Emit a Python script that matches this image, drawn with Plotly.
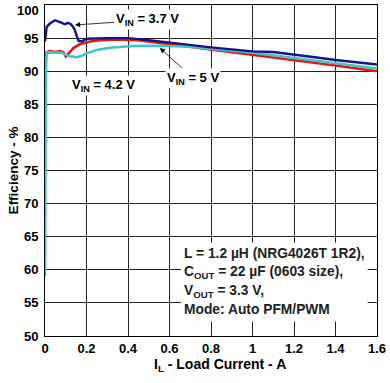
import plotly.graph_objects as go

# Data
x_37 = [0, 0.003, 0.008, 0.024, 0.048, 0.072, 0.096, 0.112, 0.125, 0.14, 0.153, 0.161, 0.177, 0.2,
        0.3, 0.4, 0.5, 0.6, 0.7, 0.8, 0.9, 1.0, 1.1, 1.2, 1.3, 1.4, 1.5, 1.6]
y_37 = [94.5, 95.8, 96.7, 97.2, 97.7, 97.4, 97.1, 97.3, 97.1, 96.5, 95.2, 94.6, 94.5, 94.9,
        95.0, 95.0, 94.7, 94.3, 93.95, 93.6, 93.3, 93.0, 92.9, 92.45, 92.1, 91.7, 91.35, 91.0]

x_42 = [0, 0.003, 0.008, 0.024, 0.048, 0.072, 0.088, 0.1, 0.112, 0.137, 0.169, 0.217, 0.265, 0.345,
        0.45, 0.6, 0.7, 0.8, 1.0, 1.2, 1.4, 1.6]
y_42 = [91.0, 92.5, 92.9, 93.05, 92.9, 93.05, 92.9, 92.2, 92.6, 93.5, 94.1, 94.5, 94.7, 94.8,
        94.7, 94.1, 93.7, 93.35, 92.55, 91.7, 90.85, 90.0]

x_50 = [0, 0.002, 0.004, 0.008, 0.048, 0.08, 0.104, 0.129, 0.153, 0.177, 0.2, 0.249, 0.313, 0.424,
        0.55, 0.7, 0.8, 1.0, 1.2, 1.4, 1.6]
y_50 = [59, 75, 90, 92.85, 92.85, 92.8, 92.45, 92.2, 92.1, 92.3, 92.7, 93.2, 93.55, 93.8,
        93.85, 93.7, 93.4, 92.8, 92.0, 91.2, 90.4]

x_ticks = [0, 0.2, 0.4, 0.6, 0.8, 1.0, 1.2, 1.4, 1.6]
x_tick_labels = ["0", "0.2", "0.4", "0.6", "0.8", "1", "1.2", "1.4", "1.6"]
y_ticks = [50, 55, 60, 65, 70, 75, 80, 85, 90, 95, 100]

note_lines = ["L = 1.2 \u00b5H (NRG4026T 1R2),",
              "C<sub>OUT</sub> = 22 \u00b5F (0603 size),",
              "V<sub>OUT</sub> = 3.3 V,",
              "Mode: Auto PFM/PWM"]

FONT = "Liberation Sans, Arial, sans-serif"

fig = go.Figure()
fig.add_trace(go.Scatter(x=x_42, y=y_42, mode="lines", line=dict(color="#ee1111", width=2.6),
                         name="4.2 V", showlegend=False))
fig.add_trace(go.Scatter(x=x_50, y=y_50, mode="lines", line=dict(color="#3cc6c6", width=2.6),
                         name="5 V", showlegend=False))
fig.add_trace(go.Scatter(x=x_37, y=y_37, mode="lines", line=dict(color="#14148a", width=2.4),
                         name="3.7 V", showlegend=False))

ann_font = dict(family=FONT, size=13, color="black")
arrow_common = dict(showarrow=True, arrowhead=2, arrowsize=1.3, arrowwidth=0.8, arrowcolor="black",
                    bgcolor="white", font=ann_font, xref="x", yref="y", standoff=0)

annotations = [
    dict(x=0.1446, y=96.98, ax=72, ay=-5, text="<b>V<sub>IN</sub> = 3.7 V</b>", **arrow_common),
    dict(x=0.188, y=94.26, ax=19, ay=42, text="<b>V<sub>IN</sub> = 4.2 V</b>", **arrow_common),
    dict(x=0.554, y=93.5, ax=33, ay=30, text="<b>V<sub>IN</sub> = 5 V</b>", **arrow_common),
]
note_y = [62.4, 59.6, 56.75, 53.95]
for t, yy in zip(note_lines, note_y):
    annotations.append(dict(x=0.662, y=yy, xref="x", yref="y", xanchor="left", yanchor="middle",
                            text="<b>" + t + "</b>", showarrow=False,
                            font=dict(family=FONT, size=13.8, color="#222222")))
# x-axis title
annotations.append(dict(x=0.527, y=0, xref="paper", yref="paper", xanchor="center", yanchor="top",
                        yshift=-18, showarrow=False,
                        text="<b>I<sub>L</sub> - Load Current - A</b>",
                        font=dict(family=FONT, size=14, color="black")))
# top y tick label, nudged down so it stays inside the page
annotations.append(dict(x=0, y=y_ticks[-1], xref="paper", yref="y", xanchor="right", yanchor="top",
                        xshift=-4, yshift=4, showarrow=False,
                        text="<b>%d</b>" % y_ticks[-1],
                        font=dict(family=FONT, size=13, color="black")))

fig.update_layout(
    width=390, height=383,
    margin=dict(l=45, r=13, t=5, b=47),
    paper_bgcolor="white", plot_bgcolor="white",
    font=dict(family=FONT, size=12, color="black"),
    annotations=annotations,
    shapes=[dict(type="rect", xref="x", yref="y", x0=0.655, x1=1.555, y0=52.2, y1=64.1,
                 fillcolor="white", line=dict(width=0), layer="above")],
)
fig.update_xaxes(range=[0, 1.6], tickvals=x_ticks,
                 ticktext=["<b>" + t + "</b>" for t in x_tick_labels],
                 showgrid=True, gridcolor="#222222", gridwidth=1, automargin=False,
                 showline=True, linecolor="black", linewidth=1, mirror=True,
                 zeroline=False, ticks="", ticklabeloverflow="allow",
                 tickfont=dict(family=FONT, size=13, color="black"))
fig.update_yaxes(range=[50, 100], tickvals=y_ticks,
                 ticktext=["<b>%d</b>" % v if v != 100 else "" for v in y_ticks],
                 showgrid=True, gridcolor="#222222", gridwidth=1, automargin=False,
                 showline=True, linecolor="black", linewidth=1, mirror=True,
                 zeroline=False, ticks="", ticklabeloverflow="allow", ticklabelstandoff=3,
                 tickfont=dict(family=FONT, size=13, color="black"),
                 title=dict(text="<b>Efficiency - %</b>", standoff=2,
                            font=dict(family=FONT, size=13.5)))

fig.write_html("out.html", config={"displayModeBar": False},
               post_script="document.body.style.margin='0px';document.body.style.overflow='hidden';")
